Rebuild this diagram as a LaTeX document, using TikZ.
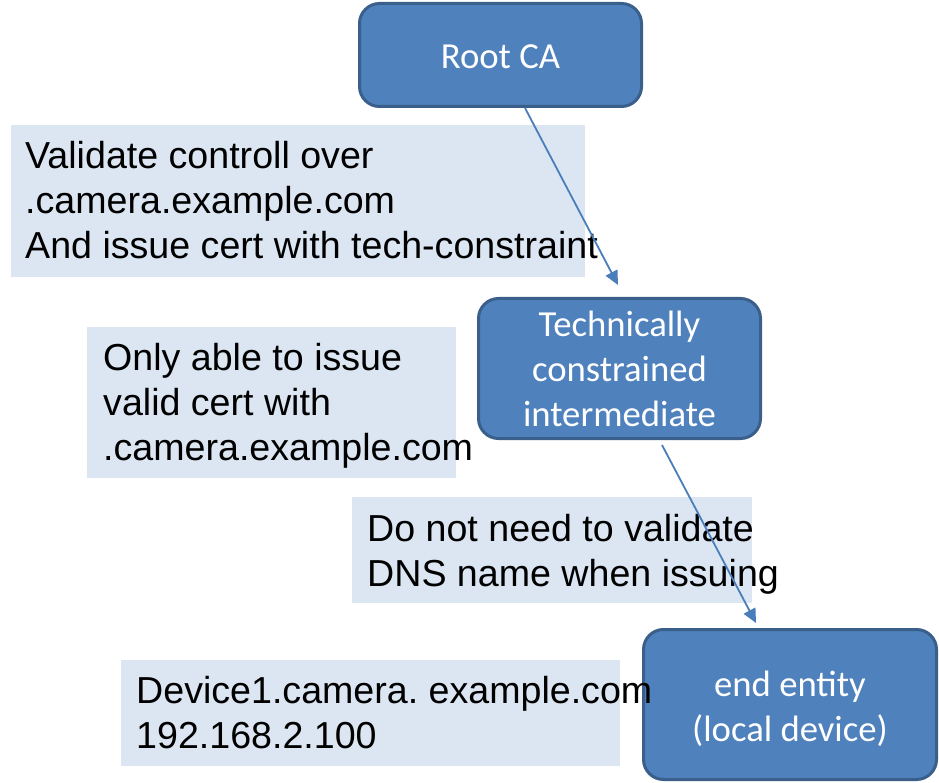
\documentclass[tikz,border=0pt]{standalone}
\usepackage{fontspec}
\usepackage{tikz}
\usetikzlibrary{arrows.meta}
\setmainfont{Liberation Sans}
\newfontfamily\boxfont{Carlito}
\definecolor{cafill}{HTML}{4F81BD}
\definecolor{caedge}{HTML}{3A5F8B}
\definecolor{notefill}{HTML}{DCE6F2}
\definecolor{linkcol}{HTML}{4A7EBB}
\frenchspacing

\begin{document}
\begin{tikzpicture}[x=1pt,y=-1pt]
    \tikzstyle{ca}=[draw=caedge,fill=cafill,line width=3pt,rounded corners=20pt,
                    text=white,align=center,inner sep=0pt,
                    font=\boxfont\fontsize{36.7}{45}\selectfont]
    \tikzstyle{note}=[anchor=base west,align=left,inner sep=0pt,
                      font=\fontsize{37.6}{45}\selectfont]
    \tikzstyle{link}=[draw=linkcol,line width=1.8pt,
                      -{Triangle[length=14pt,width=13pt]}]

      \useasboundingbox (0,0) rectangle (939,783);

      % light boxes behind the texts
      \fill[notefill] (11,125) rectangle (585,277);
      \fill[notefill] (87,327) rectangle (456,478);
      \fill[notefill] (352,497) rectangle (752,603);
      \fill[notefill] (121,660) rectangle (620,766);

      \node (root) [ca,minimum width=282pt,minimum height=103pt] at (500.5,55)
        {\rule{0pt}{28pt}Root CA};
      \node (inter) [ca,minimum width=282pt,minimum height=140pt] at (619.5,368.5)
        {Technically\\constrained\\intermediate};
      \node (leaf) [ca,minimum width=293pt,minimum height=150pt] at (790,704.5)
        {\rule{0pt}{34pt}end entity\\(local device)};

      % base anchor sits on the last line
      \node (validate) [note] at (25,259)
        {Validate controll over\\.camera.example.com\\And issue cert with tech-constraint};
      \node (only) [note] at (103,460)
        {Only able to issue\\valid cert with\\.camera.example.com};
      \node (nodns) [note] at (367,586)
        {Do not need to validate\\DNS name when issuing};
      \node (device) [note] at (136,748)
        {Device1.camera. example.com\\192.168.2.100};

      \draw[link] ([xshift=24.5pt]root.south) -- ([xshift=-1.5pt,yshift=12pt]inter.north);
      \draw[link] ([xshift=42.5pt,yshift=-5pt]inter.south) -- ([xshift=-34pt,yshift=5pt]leaf.north);
    \end{tikzpicture}
\end{document}
